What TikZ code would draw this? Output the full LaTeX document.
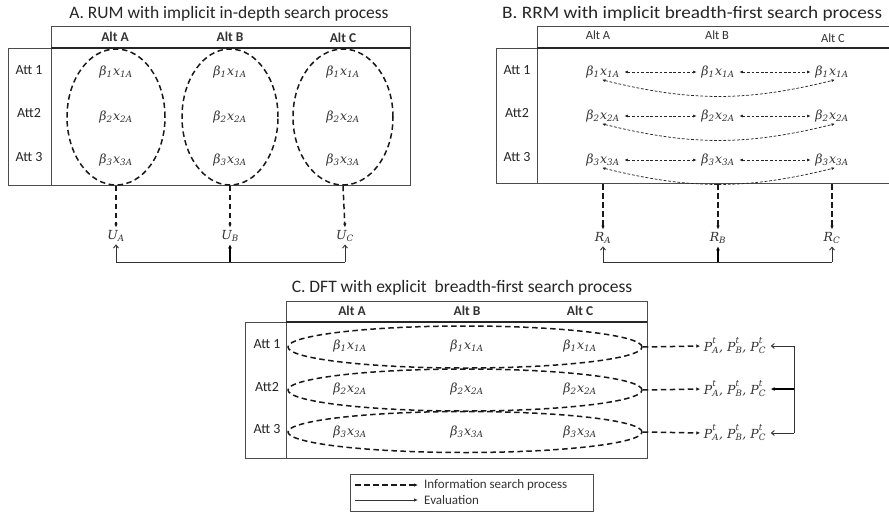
\documentclass[tikz,border=0pt]{standalone}
\usepackage{fontspec}
\setmainfont{Carlito}
\newfontfamily\tmfont{DejaVu Serif}
\usetikzlibrary{arrows.meta,shapes.geometric}
\newcommand\bterm[3]{{\tmfont\itshape β\textsubscript{#1}\kern0.5pt#2\textsubscript{#3}}}
\newcommand\symsub[2]{{\tmfont\itshape #1\textsubscript{#2}}}
\newcommand\pst[1]{P\rlap{\raisebox{0.5ex}{\textsuperscript{t}}}\textsubscript{#1}}
\newcommand\pterm{{\tmfont\itshape \pst{A}, \pst{B}, \pst{C}}}
\tikzset{
  ttl/.style={font=\fontsize{17.5}{20}\selectfont, inner sep=0pt, text=black!85},
  hdr/.style={font=\bfseries\fontsize{13.5}{15}\selectfont, text=black!80, inner sep=0pt},
  hdrB/.style={font=\fontsize{12.5}{14}\selectfont, text=black!80, inner sep=0pt},
  att/.style={font=\fontsize{14}{16}\selectfont, text=black!85, inner sep=0pt},
  term/.style={font=\fontsize{12.5}{15}\selectfont, text=black!80, inner sep=1.5pt},
  leg/.style={font=\fontsize{13}{15}\selectfont, text=black!80, inner sep=0pt},
  boxline/.style={draw=black!70, line width=0.9pt},
  hline/.style={draw=black!85, line width=1.6pt},
  srch/.style={draw=black!90, line width=1.5pt, dash pattern=on 5.5pt off 3.5pt},
  srcharrow/.style={srch, -{Latex[length=4pt,width=3.5pt]}},
  ell/.style={ellipse, srch, inner sep=0pt},
  dbl/.style={draw=black!85, line width=0.75pt, dash pattern=on 2.8pt off 1.8pt,
              {Latex[length=3.5pt,width=3pt]}-{Latex[length=3.5pt,width=3pt]}, shorten <=3pt, shorten >=3pt},
  evalline/.style={draw=black!80, line width=0.9pt},
  evalthin/.style={evalline, -{Straight Barb[length=3pt,width=5pt]}},
  evalthick/.style={draw=black, line width=1.5pt, -{Latex[length=4pt,width=4pt]}},
}
\begin{document}
\begin{tikzpicture}[x=1pt,y=-1pt]
\clip (0,0) rectangle (889,514);
\fill[white] (0,0) rectangle (889,514);

% ---------------- Panel A ----------------
\node[ttl] (tA) at (229,14) {A. RUM with implicit in-depth search process};
\draw[boxline] (51,26) rectangle (410,185);
\draw[boxline] (8,48) rectangle (51,185);
\draw[hline] (51,48) -- (410,48);
\node[hdr] (aAltA) at (115,37) {Alt A};
\node[hdr] (aAltB) at (230,37) {Alt B};
\node[hdr] (aAltC) at (343,38) {Alt C};
\node[att] (aAtt1) at (29,70) {Att 1};
\node[att] (aAtt2) at (29,113) {Att2};
\node[att] (aAtt3) at (29,157) {Att 3};
\foreach \c/\x in {A/116,B/230,C/343}{
  \node[term] (a1\c) at (\x,72) {\bterm{1}{x}{1A}};
  \node[term] (a2\c) at (\x,117) {\bterm{2}{x}{2A}};
  \node[term] (a3\c) at (\x,160) {\bterm{3}{x}{3A}};
}
\node[ell, minimum width=98pt, minimum height=136pt] (eA) at (116,117) {};
\node[ell, minimum width=96pt, minimum height=136pt] (eB) at (230,117) {};
\node[ell, minimum width=100pt, minimum height=136pt] (eC) at (343,117) {};
\node[term] (UA) at (116,236) {\symsub{U}{A}};
\node[term] (UB) at (230,236) {\symsub{U}{B}};
\node[term] (UC) at (345,236) {\symsub{U}{C}};
\draw[srcharrow, shorten >=1pt] (eA.south) -- (UA.north);
\draw[srcharrow, shorten >=1pt] (eB.south) -- (UB.north);
\draw[srcharrow, shorten >=1pt] (eC.south) -- (UC.north);
\coordinate (aLA) at (116,262);
\coordinate (aLB) at (230,262);
\coordinate (aLC) at (345,262);
\draw[evalline] (aLA) -- (aLC);
\draw[evalthin, shorten >=1pt] (aLA) -- (UA.south);
\draw[evalthick, shorten >=1pt] (aLB) -- (UB.south);
\draw[evalthin, shorten >=1pt] (aLC) -- (UC.south);

% ---------------- Panel B ----------------
\node[ttl, anchor=west, transform shape, xscale=1.1] (tB) at (502,14) {B. RRM with implicit breadth-first search process};
\draw[boxline] (537,26) rectangle (900,183);
\draw[boxline] (496,48) rectangle (537,183);
\draw[hline] (537,48) -- (900,48);
\node[hdrB] (bAltA) at (598,35) {Alt A};
\node[hdrB] (bAltB) at (717,35) {Alt B};
\node[hdrB] (bAltC) at (833,38) {Alt C};
\node[att] (bAtt1) at (517,70) {Att 1};
\node[att] (bAtt2) at (517,113) {Att2};
\node[att] (bAtt3) at (517,157) {Att 3};
\node[term] (b11) at (603,72) {\bterm{1}{x}{1A}};
\node[term] (b12) at (718,72) {\bterm{1}{x}{1A}};
\node[term] (b13) at (832,72) {\bterm{1}{x}{1A}};
\node[term] (b21) at (603,116) {\bterm{2}{x}{2A}};
\node[term] (b22) at (718,116) {\bterm{2}{x}{2A}};
\node[term] (b23) at (832,116) {\bterm{2}{x}{2A}};
\node[term] (b31) at (603,160) {\bterm{3}{x}{3A}};
\node[term] (b32) at (718,160) {\bterm{3}{x}{3A}};
\node[term] (b33) at (832,160) {\bterm{3}{x}{3A}};
\foreach \r in {1,2,3}{
  \draw[dbl] (b\r1.east) -- (b\r2.west);
  \draw[dbl] (b\r2.east) -- (b\r3.west);
  \draw[dbl, shorten <=0pt, shorten >=0pt] ([xshift=-1pt]b\r1.south) to[bend right=14] ([xshift=3pt]b\r3.south);
}
\node[term] (RA) at (603,238) {\symsub{R}{A}};
\node[term] (RB) at (718,238) {\symsub{R}{B}};
\node[term] (RC) at (832,238) {\symsub{R}{C}};
\coordinate (bTA) at (603,184);
\coordinate (bTB) at (718,184);
\coordinate (bTC) at (832,184);
\draw[srcharrow, shorten >=1pt] (bTA) -- (RA.north);
\draw[srcharrow, shorten >=1pt] (bTB) -- (RB.north);
\draw[srcharrow, shorten >=1pt] (bTC) -- (RC.north);
\coordinate (bLA) at (603,262);
\coordinate (bLB) at (718,262);
\coordinate (bLC) at (832,262);
\draw[evalline] (bLA) -- (bLC);
\draw[evalthin, shorten >=1pt] (bLA) -- (RA.south);
\draw[evalthick, shorten >=1pt] (bLB) -- (RB.south);
\draw[evalthin, shorten >=1pt] (bLC) -- (RC.south);

% ---------------- Panel C ----------------
\node[ttl] (tC) at (462,288) {C. DFT with explicit\ \ breadth-first search process};
\draw[boxline] (286,301) rectangle (647,458);
\draw[boxline] (245,322) rectangle (286,458);
\draw[hline] (286,322) -- (647,322);
\node[hdr] (cAltA) at (352,311) {Alt A};
\node[hdr] (cAltB) at (467,311) {Alt B};
\node[hdr] (cAltC) at (580,311) {Alt C};
\node[att] (cAtt1) at (267,344) {Att 1};
\node[att] (cAtt2) at (267,387) {Att2};
\node[att] (cAtt3) at (267,429) {Att 3};
\foreach \c/\x in {A/350,B/467,C/580}{
  \node[term] (c1\c) at (\x,346) {\bterm{1}{x}{1A}};
  \node[term] (c2\c) at (\x,389) {\bterm{2}{x}{2A}};
  \node[term] (c3\c) at (\x,432) {\bterm{3}{x}{3A}};
}
\node[ell, minimum width=354pt, minimum height=42pt] (f1) at (465,347) {};
\node[ell, minimum width=354pt, minimum height=42pt] (f2) at (465,390) {};
\node[ell, minimum width=354pt, minimum height=41pt] (f3) at (465,432) {};
\node[term] (P1) at (735,346) {\pterm};
\node[term] (P2) at (735,389) {\pterm};
\node[term] (P3) at (735,433) {\pterm};
\draw[srcharrow, shorten >=2pt] (f1.east) -- (P1.west);
\draw[srcharrow, shorten >=2pt] (f2.east) -- (P2.west);
\draw[srcharrow, shorten >=2pt] (f3.east) -- (P3.west);
\coordinate (cR1) at (794,346);
\coordinate (cR2) at (794,389);
\coordinate (cR3) at (794,433);
\draw[evalline] (cR1) -- (cR3);
\draw[evalthin, shorten >=3pt] (cR1) -- (P1.east);
\draw[evalthick, shorten >=3pt] (cR2) -- (P2.east);
\draw[evalthin, shorten >=3pt] (cR3) -- (P3.east);

% ---------------- Legend ----------------
\draw[boxline] (350,474) rectangle (593,511);
\coordinate (lg1s) at (355,485);
\coordinate (lg1e) at (418,485);
\coordinate (lg2s) at (355,500);
\coordinate (lg2e) at (418,500);
\draw[srcharrow] (lg1s) -- (lg1e);
\draw[evalline, -{Latex[length=4pt,width=3.5pt]}] (lg2s) -- (lg2e);
\node[leg, anchor=west] (lgt1) at (424,485) {Information search process};
\node[leg, anchor=west] (lgt2) at (424,500) {Evaluation};
\end{tikzpicture}
\end{document}
